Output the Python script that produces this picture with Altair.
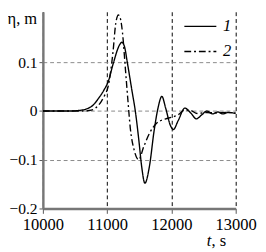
import altair as alt
import pandas as pd

# Curve 1 (solid)
t1 = [10000, 10400, 10550, 10672, 10780, 10866, 10950, 11015, 11100, 11190, 11229, 11270,
      11313, 11388, 11438, 11493, 11537, 11587, 11657, 11731, 11791, 11851, 11910, 11985,
      12030, 12104, 12209, 12300, 12388, 12470, 12552, 12640, 12720, 12800, 12880, 13000]
eta1 = [0.0, 0.0, 0.001, 0.004, 0.012, 0.026, 0.043, 0.06, 0.1, 0.135, 0.141, 0.132,
        0.1, 0.04, 0.0, -0.06, -0.114, -0.148, -0.114, -0.04, 0.006, 0.03, 0.006, -0.03,
        -0.038, -0.02, 0.006, -0.004, -0.016, -0.008, 0.0, -0.006, -0.002, -0.006, -0.003, -0.005]

# Curve 2 (dash-dot)
t2 = [10000, 10600, 10720, 10820, 10910, 10960, 11015, 11090, 11134, 11175, 11205, 11239,
      11284, 11324, 11360, 11420, 11490, 11567, 11657, 11761, 11910, 12000, 12100, 12209,
      12300, 12400, 12550, 12700, 12850, 13000]
eta2 = [0.0, 0.0, 0.001, 0.006, 0.02, 0.032, 0.05, 0.12, 0.18, 0.197, 0.19, 0.16,
        0.086, 0.02, -0.035, -0.08, -0.1, -0.074, -0.046, -0.026, -0.016, -0.013, -0.008, 0.002,
        0.001, -0.005, -0.003, -0.004, -0.003, -0.004]

series_labels = ["1", "2"]
x_ticks = [10000, 11000, 12000, 13000]
y_ticks = [-0.2, -0.1, 0, 0.1]

df = pd.concat([
    pd.DataFrame({"t": t1, "eta": eta1, "s": series_labels[0]}),
    pd.DataFrame({"t": t2, "eta": eta2, "s": series_labels[1]}),
])

FONT = "Liberation Serif"

lines = alt.Chart(df).mark_line(
    interpolate="monotone", strokeWidth=1.4, color="black", clip=True
).encode(
    x=alt.X("t:Q", scale=alt.Scale(domain=[10000, 13000], nice=False, zero=False),
            axis=alt.Axis(values=x_ticks, title=None, format="d", grid=True,
                          gridColor="black", gridDash=[4, 3], gridWidth=1,
                          labelPadding=4, labelFlush=False)),
    y=alt.Y("eta:Q", scale=alt.Scale(domain=[-0.2, 0.2036], nice=False, zero=False),
            axis=alt.Axis(values=y_ticks, title="η, m", titleAngle=0, titleX=-37,
                          titleY=12, titleAlign="left", titleBaseline="alphabetic",
                          format=".1~f", grid=True, gridColor="#888", gridDash=[4, 3],
                          gridWidth=1, labelPadding=2, tickSize=4, labelFontSize=16)),
    strokeDash=alt.StrokeDash(
        "s:N",
        scale=alt.Scale(domain=series_labels, range=[[1, 0], [7, 3, 2, 3]]),
        legend=alt.Legend(title=None, orient="none", legendX=145, legendY=-2.5,
                          symbolType="stroke", symbolSize=1089, symbolStrokeWidth=1.4,
                          symbolStrokeColor="black", labelFontStyle="italic",
                          labelOffset=6, rowPadding=-16, padding=0),
    ),
)

t_label = alt.Chart(pd.DataFrame({"label": ["t"]})).mark_text(
    font=FONT, fontSize=17, fontStyle="italic", align="left",
    baseline="alphabetic", color="black"
).encode(x=alt.value(169), y=alt.value(242), text="label:N")

s_label = alt.Chart(pd.DataFrame({"label": [", s"]})).mark_text(
    font=FONT, fontSize=17, align="left", baseline="alphabetic", color="black"
).encode(x=alt.value(174), y=alt.value(242), text="label:N")

chart = alt.layer(lines, t_label, s_label).properties(
    width=199, height=203,
    autosize=alt.AutoSizeParams(type="none"),
    padding={"left": 36, "top": 0, "right": 23, "bottom": 41},
).configure_view(strokeWidth=0).configure_axis(
    labelFont=FONT, labelFontSize=17, labelColor="black",
    titleFont=FONT, titleFontSize=17, titleFontWeight="normal", titleColor="black",
    domainColor="#777", domainWidth=2.5, tickColor="#555", tickSize=5, tickWidth=1,
).configure_legend(
    labelFont=FONT, labelFontSize=17, labelColor="black",
)

chart.save("out.html", embed_options={"renderer": "svg", "actions": False})
